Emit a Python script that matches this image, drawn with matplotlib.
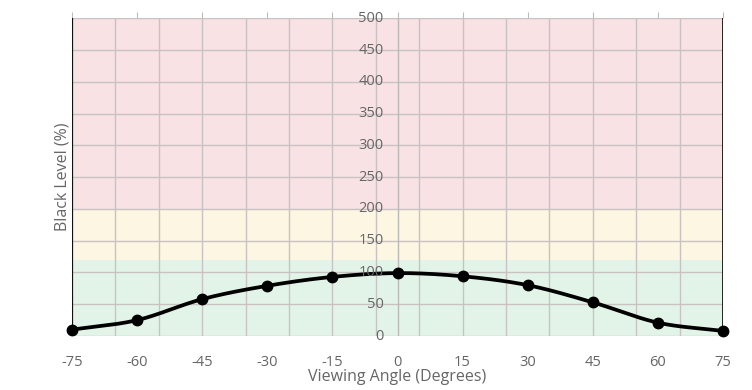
import numpy as np
import matplotlib
matplotlib.use("Agg")
import matplotlib.pyplot as plt

plt.rcParams['font.family'] = ['Open Sans', 'DejaVu Sans']

angles = [-75, -60, -45, -30, -15, 0, 15, 30, 45, 60, 75]
black_level = [10, 25, 58, 79, 93, 99, 94, 80, 53, 21, 8]
x_ticks = [-75, -60, -45, -30, -15, 0, 15, 30, 45, 60, 75]
y_ticks = [0, 50, 100, 150, 200, 250, 300, 350, 400, 450, 500]
bands = [(0, 120, '#e2f4e8'), (120, 200, '#fdf6e3'), (200, 500, '#f8e2e4')]
x_grid = [-65, -55, -45, -35, -25, -15, -5, 5, 15, 25, 35, 45, 55, 65]


def catmull_rom(xs, ys, n=30):
    xs = np.asarray(xs, float)
    ys = np.asarray(ys, float)
    px = np.concatenate([[2 * xs[0] - xs[1]], xs, [2 * xs[-1] - xs[-2]]])
    py = np.concatenate([[2 * ys[0] - ys[1]], ys, [2 * ys[-1] - ys[-2]]])
    outx, outy = [], []
    t = np.linspace(0, 1, n, endpoint=False)
    for i in range(1, len(px) - 2):
        p0, p1, p2, p3 = [np.array([px[j], py[j]]) for j in (i - 1, i, i + 1, i + 2)]
        m1 = (p2 - p0) / 2
        m2 = (p3 - p1) / 2
        h00 = 2 * t**3 - 3 * t**2 + 1
        h10 = t**3 - 2 * t**2 + t
        h01 = -2 * t**3 + 3 * t**2
        h11 = t**3 - t**2
        pts = (np.outer(h00, p1) + np.outer(h10, m1) + np.outer(h01, p2) + np.outer(h11, m2))
        outx.extend(pts[:, 0])
        outy.extend(pts[:, 1])
    outx.append(xs[-1])
    outy.append(ys[-1])
    return np.array(outx), np.array(outy)


fig = plt.figure(figsize=(7.52, 3.90), dpi=100)
ax = fig.add_axes([72 / 752, 1 - 336 / 390, (723 - 72) / 752, (336 - 18.3) / 390])

for lo, hi, c in bands:
    ax.axhspan(lo, hi, color=c, lw=0, zorder=0)

grid_c = '#c9c2c2'
for g in x_grid:
    ax.axvline(g, color=grid_c, lw=1, zorder=1)
for yv in y_ticks:
    ax.axhline(yv, color=grid_c, lw=1, zorder=1)
ax.axvline(0, color='#bdb8b8', lw=1, zorder=1)
ax.axvline(-75, color='#111111', lw=1.6, zorder=3)
ax.axvline(75, color='#111111', lw=2.0, zorder=3)

sx, sy = catmull_rom(angles, black_level)
ax.plot(sx, sy, color='black', lw=2.7, zorder=4, solid_capstyle='round', clip_on=False)
ax.plot(angles, black_level, 'o', color='black', ms=7.5, zorder=5, clip_on=False)

ax.set_xlim(-75, 75)
ax.set_ylim(0, 500)
for s in ax.spines.values():
    s.set_visible(False)

ax.set_xticks(x_ticks)
ax.set_xticklabels([str(v) for v in x_ticks])
ax.tick_params(axis='x', top=True, bottom=False, labeltop=False, labelbottom=True,
               direction='out', length=4, color='#bbbbbb', pad=10,
               labelsize=10.5, labelcolor='#666666')
ax.set_yticks([])

for yv in y_ticks:
    ax.annotate(str(yv), xy=(0, yv), xytext=(-14, 0), textcoords='offset pixels',
                ha='right', va='center', fontsize=10.5, color='#666666', zorder=6,
                annotation_clip=False)

ax.set_xlabel('Viewing Angle (Degrees)', fontsize=11.5, color='#666666', labelpad=-1)
ax.set_ylabel('Black Level (%)', fontsize=11.5, color='#666666', labelpad=1)

fig.savefig('out.png', dpi=100)
